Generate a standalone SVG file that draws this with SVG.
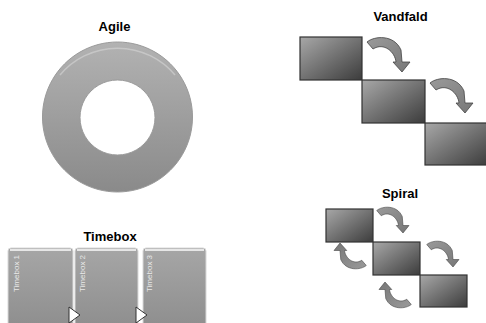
<svg xmlns="http://www.w3.org/2000/svg" xmlns:xlink="http://www.w3.org/1999/xlink" width="486" height="323" viewBox="0 0 486 323">
<style>
.title{font-family:"Liberation Sans",Arial,sans-serif;font-weight:bold;font-size:13px;fill:#000;text-anchor:middle}
.step{fill:url(#gStep);stroke:#333;stroke-width:1.2}
.arrow{fill:url(#gArrow);stroke:#444;stroke-width:0.8}
.tb{fill:url(#gTb);stroke:#d8d8d8;stroke-width:1}
.tbtxt{font-family:"Liberation Sans",Arial,sans-serif;font-size:8px;fill:#e8e8e8}
.tri{fill:#fff;stroke:#333;stroke-width:1}
</style>
<defs>
<linearGradient id="gStep" x1="0" y1="0" x2="1" y2="1">
<stop offset="0" stop-color="#a8a8a8"/><stop offset="1" stop-color="#3c3c3c"/>
</linearGradient>
<linearGradient id="gArrow" x1="0" y1="0" x2="1" y2="1">
<stop offset="0" stop-color="#9a9a9a"/><stop offset="1" stop-color="#777"/>
</linearGradient>
<linearGradient id="gRing" x1="0" y1="0" x2="0" y2="1">
<stop offset="0" stop-color="#b2b2b2"/><stop offset="1" stop-color="#8a8a8a"/>
</linearGradient>
<linearGradient id="gTb" x1="0" y1="0" x2="0" y2="1">
<stop offset="0" stop-color="#a6a6a6"/><stop offset="1" stop-color="#8e8e8e"/>
</linearGradient>
<path id="carrow" d="M1,6 C8,0 28,-2 35,14 L36,26 L44,26 L36,36 L27,26 L30,26 C29,16 18,6 7,13 Z"/>
</defs>

<g id="agile">
<text class="title" x="114.5" y="31">Agile</text>
<path d="M117.5,42 A75,75 0 1 1 117.49,42 Z M117.5,80 A37.5,37.5 0 1 0 117.51,80 Z" fill="url(#gRing)" fill-rule="evenodd" stroke="#9a9a9a" stroke-width="1"/>
<path d="M60,75 A75,75 0 0 1 175,75" fill="none" stroke="#d0d0d0" stroke-width="1.5" opacity="0.7"/>
</g>

<g id="vandfald">
<text class="title" x="400.5" y="21">Vandfald</text>
<rect class="step" x="300" y="37" width="62" height="43"/>
<rect class="step" x="362" y="80" width="63" height="43"/>
<rect class="step" x="425" y="123" width="63" height="42"/>
</g>

<g id="spiral">
<text class="title" x="400" y="198">Spiral</text>
<rect class="step" x="326" y="209" width="47" height="33"/>
<rect class="step" x="373" y="242" width="47" height="33"/>
<rect class="step" x="420" y="275" width="47" height="32"/>
</g>

<g id="timebox">
<text class="title" x="110" y="241">Timebox</text>
<g id="tb1"><rect class="tb" x="8" y="248" width="65" height="80" rx="3"/><line x1="10" y1="250" x2="71" y2="250" stroke="#e6e6e6" stroke-width="2"/><text class="tbtxt" transform="translate(18.5,292) rotate(-90)">Timebox 1</text></g>
<g id="tb2"><rect class="tb" x="75" y="248" width="63" height="80" rx="3"/><line x1="77" y1="250" x2="136" y2="250" stroke="#e6e6e6" stroke-width="2"/><text class="tbtxt" transform="translate(85,292) rotate(-90)">Timebox 2</text></g>
<g id="tb3"><rect class="tb" x="143" y="248" width="63" height="80" rx="3"/><line x1="145" y1="250" x2="204" y2="250" stroke="#e6e6e6" stroke-width="2"/><text class="tbtxt" transform="translate(152,292) rotate(-90)">Timebox 3</text></g>
</g>

<g id="connectors">
<use xlink:href="#carrow" class="arrow" transform="translate(366,36)"/>
<use xlink:href="#carrow" class="arrow" transform="translate(429,77)"/>
<use xlink:href="#carrow" class="arrow" transform="translate(376,206) scale(0.75)"/>
<use xlink:href="#carrow" class="arrow" transform="translate(426,240) scale(0.75)"/>
<use xlink:href="#carrow" class="arrow" transform="translate(367,270) rotate(180) scale(0.75)"/>
<use xlink:href="#carrow" class="arrow" transform="translate(412,309) rotate(180) scale(0.75)"/>
<polygon class="tri" points="69,307 80,315 69,323"/>
<polygon class="tri" points="136,307 147,315 136,323"/>
</g>
</svg>
